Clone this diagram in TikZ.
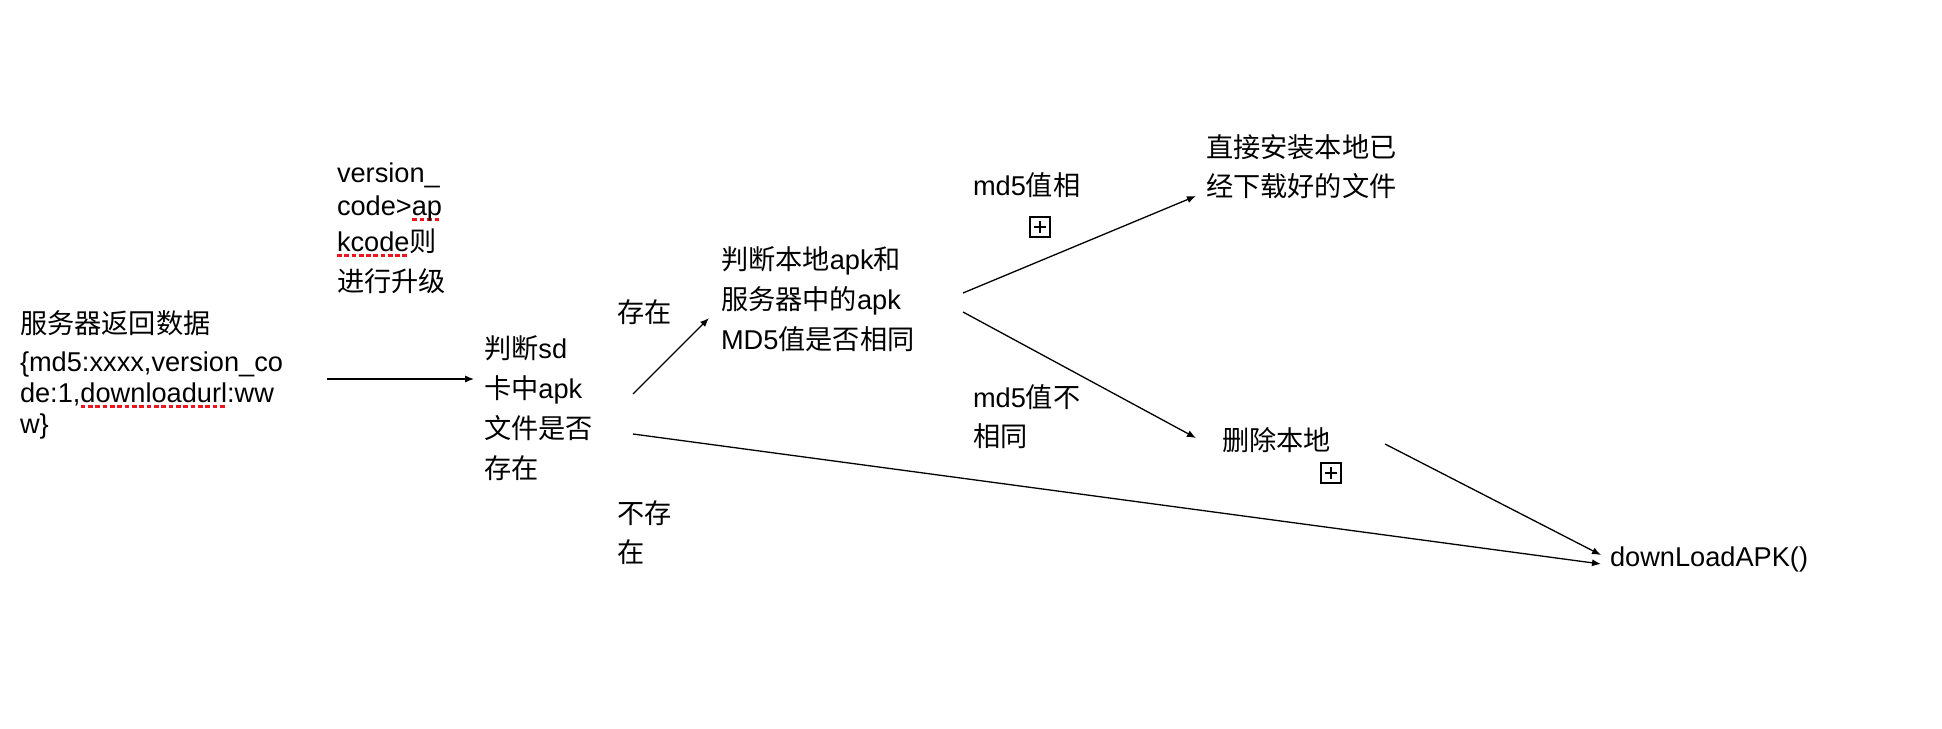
\documentclass[tikz,border=0pt]{standalone}
\usepackage{fontspec}
\setmainfont{Liberation Sans}
\newfontfamily\cjk{Noto Sans CJK SC}
\usetikzlibrary{arrows.meta,calc}

\definecolor{spellred}{RGB}{240,20,30}

% red dashed underline under a word
\newcommand\spell[1]{\setbox0\hbox{#1}\rlap{\hbox to \wd0{\color{spellred}\xleaders\hbox{\rule[-2.9pt]{2.4pt}{1.6pt}\hskip1.2pt}\hfill}}\box0}
% a block of lines whose baseline is the baseline of its first line;
% each row gives its own distance from the previous baseline
\newcommand\stack[1]{\vtop{\lineskiplimit=-\maxdimen\lineskip=0pt #1}}
\newcommand\row[2]{\baselineskip=#1\hbox{#2}}

\tikzset{
  txt/.style={anchor=base west, inner sep=0pt, outer sep=0pt,
              font=\fontsize{13.6}{16}\selectfont},
  conn/.style={line width=0.65pt, -{Latex[length=4.5pt,width=3.6pt]}},
  plusbox/.style={draw, line width=0.8pt, minimum size=10.2pt, inner sep=0pt,
    path picture={
      \draw[line width=0.8pt] ([xshift=2pt]path picture bounding box.west) -- ([xshift=-2pt]path picture bounding box.east);
      \draw[line width=0.8pt] ([yshift=-2pt]path picture bounding box.north) -- ([yshift=2pt]path picture bounding box.south);
    }},
}

\begin{document}
\begin{tikzpicture}[x=0.5pt, y=-0.5pt]
  \useasboundingbox[fill=white] (0,0) rectangle (1942,728);

  % text blocks
  \node[txt] (data) at (20,333) {\stack{%
      \row{0pt}{\cjk 服务器返回数据}%
      \row{19pt}{\{md5:xxxx,version\_co}%
      \row{15.5pt}{de:1,\spell{downloadurl}:ww}%
      \row{15.5pt}{w\}}}};

  \node[txt] (upgrade) at (337,182) {\stack{%
      \row{0pt}{version\_}%
      \row{16.5pt}{code>\spell{ap}}%
      \row{18pt}{\spell{kcode}{\cjk 则}}%
      \row{20pt}{\cjk 进行升级}}};

  \node[txt] (sdcheck) at (484,358) {\stack{%
      \row{0pt}{{\cjk 判断}sd}%
      \row{20pt}{{\cjk 卡中}apk}%
      \row{20pt}{\cjk 文件是否}%
      \row{20pt}{\cjk 存在}}};

  \node[txt] (md5check) at (721,269) {\stack{%
      \row{0pt}{{\cjk 判断本地}apk{\cjk 和}}%
      \row{20pt}{{\cjk 服务器中的}apk}%
      \row{20pt}{MD5{\cjk 值是否相同}}}};

  \node[txt] (exists) at (617,322) {\cjk 存在};

  \node[txt] (missing) at (617,523) {\stack{%
      \row{0pt}{\cjk 不存}%
      \row{19.5pt}{\cjk 在}}};

  \node[txt] (install) at (1206,157) {\stack{%
      \row{0pt}{\cjk 直接安装本地已}%
      \row{19.5pt}{\cjk 经下载好的文件}}};

  \node[txt] (same) at (973,195) {md5{\cjk 值相}};

  \node[txt] (differ) at (973,407) {\stack{%
      \row{0pt}{md5{\cjk 值不}}%
      \row{19.5pt}{\cjk 相同}}};

  \node[txt] (delete) at (1222,450) {\cjk 删除本地};

  \node[txt] (download) at (1610,566) {downLoadAPK()};

  % boxed plus marks
  \node[plusbox] (plusa) at (1040,227) {};
  \node[plusbox] (plusb) at (1331,473) {};

  % connector end points
  \coordinate (data-out)     at (327,379);
  \coordinate (sd-in)        at (474,379);
  \coordinate (sd-yes)       at (633,394);
  \coordinate (md5-in)       at (709,318);
  \coordinate (sd-no)        at (633,434);
  \coordinate (md5-same)     at (963,293);
  \coordinate (install-in)   at (1196,196);
  \coordinate (md5-diff)     at (963,312);
  \coordinate (delete-in)    at (1196,438);
  \coordinate (delete-out)   at (1385,444);
  \coordinate (download-in1) at (1601,555);
  \coordinate (download-in2) at (1601,564);

  % connectors
  \draw[conn] (data-out) -- (sd-in);
  \draw[conn] (sd-yes) -- (md5-in);
  \draw[conn] (sd-no) -- (download-in2);
  \draw[conn] (md5-same) -- (install-in);
  \draw[conn] (md5-diff) -- (delete-in);
  \draw[conn] (delete-out) -- (download-in1);
\end{tikzpicture}
\end{document}
